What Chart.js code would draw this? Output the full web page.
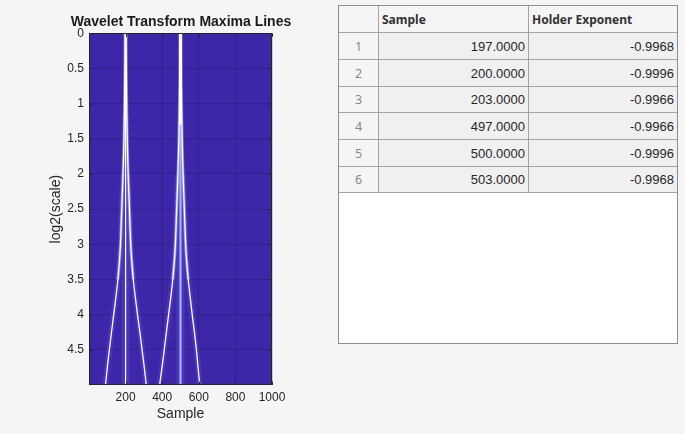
<!DOCTYPE html>
<html><head><meta charset="utf-8">
<script src="https://cdn.jsdelivr.net/npm/chart.js@4.4.1/dist/chart.umd.min.js"></script>
<style>
html,body{margin:0;padding:0;background:#f5f5f5;width:685px;height:434px;overflow:hidden;}
#c{position:absolute;left:0;top:0;}
#tbl{position:absolute;left:338px;top:5px;width:338px;height:337px;background:#fff;border:1px solid #8e8e8e;}
.grid{display:grid;grid-template-columns:40px 150px 148px;grid-template-rows:27px 27px 27px 26px 27px 27px 26px;}
.cell{box-sizing:border-box;border-right:1px solid #a3a3a3;border-bottom:1px solid #a3a3a3;overflow:hidden;white-space:nowrap;display:flex;align-items:center;}
.cell.last{border-right:none;}
.hd{background:#f5f5f5;font-family:"Noto Sans",sans-serif;font-weight:bold;font-size:12px;color:#333;padding-left:3px;}
.rn{background:#f5f5f5;font-family:"Noto Sans",sans-serif;font-size:12.5px;color:#888;justify-content:center;}
.num{background:#f0f0f0;font-family:"Liberation Sans",Arial,sans-serif;font-size:13px;color:#262626;justify-content:flex-end;padding-right:3px;}
</style></head>
<body>
<canvas id="c" width="362" height="434"></canvas>
<div id="tbl"><div class="grid" id="g"></div></div>
<script>
// ---- data ----
const levels  = [0, 0.5, 1, 1.5, 2, 2.5, 3, 3.25, 3.5, 3.75, 4, 4.25, 4.5, 4.75, 5];
const line197 = [197, 196, 194, 191, 186, 179, 172, 166, 158, 147, 135, 123, 111, 100, 90];
const line203 = [203, 204, 206, 209, 214, 221, 228, 234, 242, 253, 265, 278, 290, 302, 313];
const line497 = [497, 496, 494, 491, 486, 479, 472, 466, 458, 447, 435, 423, 411, 399, 386];
const line503 = [503, 504, 506, 509, 514, 521, 528, 534, 542, 553, 564, 576, 587, 596, 605];
const centerLevels = [0, 5];
const line200 = [200, 200];
const line500 = [500, 500];
const upperLevels = [0, 1.3];
const xTicks = [200, 400, 600, 800, 1000];
const yTicks = [0, 0.5, 1, 1.5, 2, 2.5, 3, 3.5, 4, 4.5];

const rowLabels   = ['1', '2', '3', '4', '5', '6'];
const columnNames = ['Sample', 'Holder Exponent'];
const sampleVals  = [197, 200, 203, 497, 500, 503];
const holderVals  = [-0.9968, -0.9996, -0.9966, -0.9966, -0.9996, -0.9968];

// ---- table ----
const g = document.getElementById('g');
function cell(txt, cls){const d=document.createElement('div');d.className='cell '+cls;d.textContent=txt;g.appendChild(d);}
cell('', 'hd'); cell(columnNames[0], 'hd'); cell(columnNames[1], 'hd last');
rowLabels.forEach((r,i)=>{
  cell(r,'rn');
  cell(sampleVals[i].toFixed(4),'num');
  cell(holderVals[i].toFixed(4),'num last');
});

// ---- chart ----
const pts = (xs, ys) => xs.map((x,i)=>({x:x, y:ys[i]}));
const FONT = "'Liberation Sans', Arial, sans-serif";
Chart.defaults.font.family = FONT;
const WHITE = '#ffffff', LAV = '#aab2f4';
function ds(data, color, width, order){
  return {data:data, showLine:true, borderColor:color, borderWidth:width, pointRadius:0, tension:0.25, fill:false, order:order, yAxisID:'y'};
}
const lowerIdx = levels.map((v,i)=>i).filter(i=>levels[i]>=2);
const pick = (arr, idx)=>idx.map(i=>arr[i]);
const datasets = [
  ds(pts([200,200],[2,5]), 'rgba(85,75,215,0.45)', 8, 20),
  ds(pts([500,500],[2,5]), 'rgba(85,75,215,0.45)', 8, 20),
  ds(pts(pick(line197,lowerIdx), pick(levels,lowerIdx)), 'rgba(85,75,215,0.4)', 6, 20),
  ds(pts(pick(line203,lowerIdx), pick(levels,lowerIdx)), 'rgba(85,75,215,0.4)', 6, 20),
  ds(pts(pick(line497,lowerIdx), pick(levels,lowerIdx)), 'rgba(85,75,215,0.4)', 6, 20),
  ds(pts(pick(line503,lowerIdx), pick(levels,lowerIdx)), 'rgba(85,75,215,0.4)', 6, 20),
  ds(pts(line197.slice(0,9), levels.slice(0,9)), 'rgba(165,175,250,0.6)', 3, 10),
  ds(pts(line203.slice(0,9), levels.slice(0,9)), 'rgba(165,175,250,0.6)', 3, 10),
  ds(pts(line497.slice(0,9), levels.slice(0,9)), 'rgba(165,175,250,0.6)', 3, 10),
  ds(pts(line503.slice(0,9), levels.slice(0,9)), 'rgba(165,175,250,0.6)', 3, 10),
  ds(pts(line500, centerLevels), LAV, 2.2, 5),
  ds(pts(line197, levels), WHITE, 1.3, 1),
  ds(pts(line203, levels), WHITE, 1.3, 1),
  ds(pts(line497, levels), WHITE, 1.3, 1),
  ds(pts(line503, levels), WHITE, 1.3, 1),
  ds(pts(line200, centerLevels), WHITE, 1.2, 1),
  ds(pts(line500, upperLevels), WHITE, 2.6, 1)
];

const frame = {
  id:'frame',
  beforeDraw(chart){
    const a = chart.chartArea, c = chart.ctx;
    c.save(); c.fillStyle = 'rgb(62,38,168)';
    c.fillRect(a.left, a.top, a.right-a.left, a.bottom-a.top); c.restore();
  },
  afterDraw(chart){
    const a = chart.chartArea, c = chart.ctx, xs = chart.scales.x, ys = chart.scales.y;
    c.save(); c.strokeStyle = '#262626'; c.lineWidth = 1;
    c.beginPath();
    xs.ticks.forEach(t=>{const p=Math.round(xs.getPixelForValue(t.value))+0.5;
      c.moveTo(p,a.bottom); c.lineTo(p,a.bottom-3.5); c.moveTo(p,a.top); c.lineTo(p,a.top+3.5);});
    ys.ticks.forEach(t=>{const p=Math.round(ys.getPixelForValue(t.value))+0.5;
      c.moveTo(a.left,p); c.lineTo(a.left+3.5,p); c.moveTo(a.right,p); c.lineTo(a.right-3.5,p);});
    c.stroke();
    c.strokeRect(Math.round(a.left)+0.5, Math.round(a.top)+0.5, Math.round(a.right-a.left)-1, Math.round(a.bottom-a.top)-1);
    c.restore();
  }
};

new Chart(document.getElementById('c'), {
  type:'scatter',
  data:{datasets:datasets},
  plugins:[frame],
  options:{
    responsive:false, animation:false, devicePixelRatio:1,
    layout:{padding:0},
    plugins:{
      legend:{display:false}, tooltip:{enabled:false},
      title:{display:true, text:'Wavelet Transform Maxima Lines', color:'#1a1a1a',
        font:{family:FONT, size:14, weight:'bold'}, padding:{top:13.6, bottom:2.9}}
    },
    scales:{
      x:{type:'linear', min:0, max:1000,
        afterBuildTicks:s=>{s.ticks = xTicks.map(v=>({value:v}));},
        afterFit:s=>{s.height = 49;},
        ticks:{color:'#262626', font:{size:12}, padding:5, maxRotation:0, autoSkip:false, callback:v=>String(v)},
        grid:{color:'rgba(0,0,0,0.17)', lineWidth:1, drawTicks:false},
        border:{display:false},
        title:{display:true, text:'Sample', color:'#262626', font:{size:14}, padding:{top:0, bottom:11}}
      },
      y:{type:'linear', position:'left', reverse:true, min:0, max:5,
        afterBuildTicks:s=>{s.ticks = yTicks.map(v=>({value:v}));},
        afterFit:s=>{s.width = 89;},
        ticks:{color:'#262626', font:{size:12}, padding:5, autoSkip:false, callback:v=>String(v)},
        grid:{color:'rgba(0,0,0,0.17)', lineWidth:1, drawTicks:false},
        border:{display:false},
        title:{display:true, text:'log2(scale)', color:'#262626', font:{size:14}, padding:{top:47.9, bottom:0}}
      },
      ySpace:{type:'linear', position:'right', display:true, min:0, max:1,
        ticks:{display:false}, grid:{display:false, drawTicks:false}, border:{display:false},
        afterFit:s=>{s.width = 90;}
      }
    }
  }
});
</script>
</body></html>
